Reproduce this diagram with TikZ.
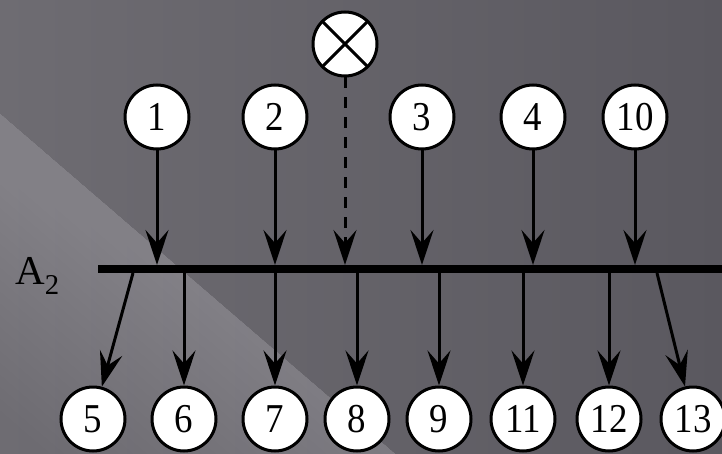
\documentclass[tikz,border=0pt]{standalone}
\usepackage{fontspec}
\setmainfont{Liberation Serif}
\newfontfamily\tnr{Liberation Serif}
\usetikzlibrary{arrows.meta,calc}
\definecolor{bgL}{HTML}{6E6C72}
\definecolor{bgR}{HTML}{5A585F}
\definecolor{bandc}{HTML}{ACAAB0}
\newcommand\dg[1]{\scalebox{0.9}[1]{#1}}
\begin{document}
\begin{tikzpicture}[x=1pt,y=-1pt,
  num/.style={circle, draw=black, fill=white, line width=3pt, minimum size=64pt,
    inner sep=0pt, font=\tnr\fontsize{41}{43}\selectfont},
  conn/.style={line width=3pt, -{Stealth[length=35pt,width=23pt,inset=13pt]}},
  barline/.style={line width=8pt},
  lbl/.style={font=\tnr\fontsize{41}{45}\selectfont, inner sep=0pt}
]
\useasboundingbox (0,0) rectangle (722,454);
% background
\shade[left color=bgL, right color=bgR] (0,0) rectangle (722,454);
\begin{scope}
  \clip (0,0) rectangle (722,454);
  \foreach \i in {0,...,24}{
    \pgfmathsetmacro\od{(25-\i)*9}
    \pgfmathsetmacro\ax{-200-0.653*\od}
    \pgfmathsetmacro\ay{-59+0.758*\od}
    \pgfmathsetmacro\bx{600-0.653*\od}
    \pgfmathsetmacro\by{630+0.758*\od}
    \fill[bandc, opacity=0.024] (-200,-59) -- (600,630) -- (\bx,\by) -- (\ax,\ay) -- cycle;
  }
\end{scope}
% top nodes
\node[num] (n1) at (157,117) {\dg{1}};
\node[num] (n2) at (275,117) {\dg{2}};
\node[num, path picture={\draw[line width=3pt]
   (path picture bounding box.north west) -- (path picture bounding box.south east)
   (path picture bounding box.north east) -- (path picture bounding box.south west);}]
   (nx) at (345,44) {};
\node[num] (n3) at (422,117) {\dg{3}};
\node[num] (n4) at (533,117) {\dg{4}};
\node[num] (n10) at (635,117) {\dg{10}};
% bar
\coordinate (barL) at (98,269);
\coordinate (barR) at (722,269);
\draw[barline] (barL) -- (barR);
\node[lbl, anchor=base west] (a2) at (15,284) {A\textsubscript{2}};
% top targets on bar
\coordinate (t1) at (157,265);
\coordinate (t2) at (275,265);
\coordinate (tx) at (345,265);
\coordinate (t3) at (422,265);
\coordinate (t4) at (533,265);
\coordinate (t10) at (635,265);
\draw[conn] (n1) -- (t1);
\draw[conn] (n2) -- (t2);
\draw[conn, dash pattern=on 11pt off 9pt] (nx) -- (tx);
\draw[conn] (n3) -- (t3);
\draw[conn] (n4) -- (t4);
\draw[conn] (n10) -- (t10);
% bottom nodes
\node[num] (n5) at (93,419) {\dg{5}};
\node[num] (n6) at (184,419) {\dg{6}};
\node[num] (n7) at (275,419) {\dg{7}};
\node[num] (n8) at (357,419) {\dg{8}};
\node[num] (n9) at (439,419) {\dg{9}};
\node[num] (n11) at (523,419) {\dg{11}};
\node[num] (n12) at (609,419) {\raisebox{-5pt}{\dg{12}}};
\node[num] (n13) at (693,419) {\dg{13}};
% sources on bar
\coordinate (s5) at (133,273);
\coordinate (s6) at (184,273);
\coordinate (s7) at (275,273);
\coordinate (s8) at (357,273);
\coordinate (s9) at (439,273);
\coordinate (s11) at (523,273);
\coordinate (s12) at (609,273);
\coordinate (s13) at (657,273);
\draw[conn] (s5) -- (n5);
\draw[conn] (s6) -- (n6);
\draw[conn] (s7) -- (n7);
\draw[conn] (s8) -- (n8);
\draw[conn] (s9) -- (n9);
\draw[conn] (s11) -- (n11);
\draw[conn] (s12) -- (n12);
\draw[conn] (s13) -- (n13);
\end{tikzpicture}
\end{document}
